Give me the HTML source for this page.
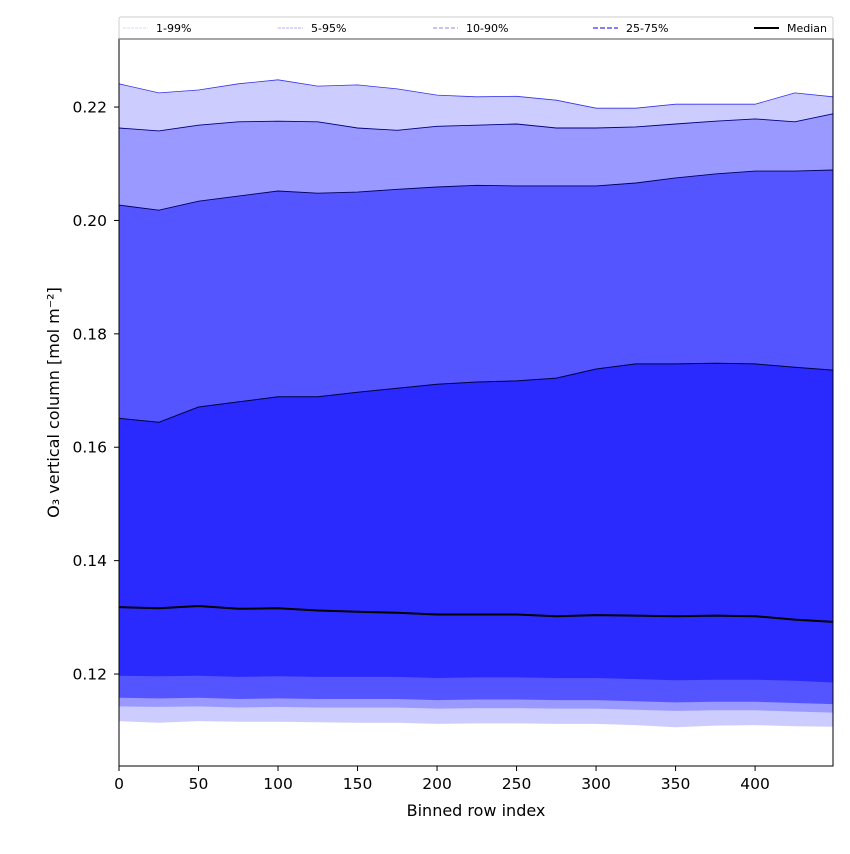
<!DOCTYPE html>
<html><head><meta charset="utf-8"><style>
body{margin:0;background:#fff;font-family:"DejaVu Sans","Liberation Sans",sans-serif;}
</style></head><body>
<svg id="chart" width="850" height="850" xmlns="http://www.w3.org/2000/svg" font-family="DejaVu Sans, Liberation Sans, sans-serif"></svg>
<script>
const rows=[0,25,50,75,100,125,150,175,200,225,250,275,300,325,350,375,400,425,449];
const p99=[0.2241,0.2225,0.2230,0.2241,0.2248,0.2237,0.2239,0.2232,0.2221,0.2218,0.2219,0.2212,0.2198,0.2198,0.2205,0.2205,0.2205,0.2225,0.2218];
const p95=[0.2163,0.2158,0.2168,0.2174,0.2175,0.2174,0.2163,0.2159,0.2166,0.2168,0.2170,0.2163,0.2163,0.2165,0.2170,0.2175,0.2179,0.2174,0.2188];
const p90=[0.2027,0.2018,0.2034,0.2043,0.2052,0.2048,0.2050,0.2055,0.2059,0.2062,0.2061,0.2061,0.2061,0.2066,0.2075,0.2082,0.2087,0.2087,0.2089];
const p75=[0.1651,0.1644,0.1671,0.1680,0.1689,0.1689,0.1697,0.1704,0.1711,0.1715,0.1717,0.1722,0.1738,0.1747,0.1747,0.1748,0.1747,0.1741,0.1736];
const p50=[0.1318,0.1316,0.1320,0.1315,0.1316,0.1312,0.1310,0.1308,0.1305,0.1305,0.1305,0.1302,0.1304,0.1303,0.1302,0.1303,0.1302,0.1296,0.1292];
const p25=[0.1197,0.1196,0.1197,0.1195,0.1196,0.1195,0.1195,0.1195,0.1193,0.1194,0.1194,0.1193,0.1193,0.1191,0.1189,0.1190,0.1190,0.1188,0.1185];
const p10=[0.1158,0.1157,0.1158,0.1156,0.1157,0.1156,0.1156,0.1156,0.1154,0.1155,0.1155,0.1154,0.1154,0.1152,0.1150,0.1151,0.1151,0.1149,0.1147];
const p5=[0.1143,0.1142,0.1143,0.1141,0.1142,0.1141,0.1141,0.1141,0.1139,0.1140,0.1140,0.1139,0.1139,0.1137,0.1135,0.1136,0.1136,0.1134,0.1132];
const p1=[0.1117,0.1114,0.1117,0.1116,0.1116,0.1115,0.1114,0.1114,0.1112,0.1113,0.1113,0.1112,0.1112,0.1110,0.1106,0.1109,0.1110,0.1108,0.1107];
const xTicks=[0,50,100,150,200,250,300,350,400];
const yTicks=[0.12,0.14,0.16,0.18,0.20,0.22];
const L=119,R=833,T=39,B=766,XMAX=449,YMIN=0.10378,YMAX=0.23200;
const sx=v=>L+(v-0)/(XMAX-0)*(R-L);
const sy=v=>B-(v-YMIN)/(YMAX-YMIN)*(B-T);
const svg=document.getElementById('chart');
const NS='http://www.w3.org/2000/svg';
function mk(tag,attrs,parent){const e=document.createElementNS(NS,tag);for(const k in attrs)e.setAttribute(k,attrs[k]);(parent||svg).appendChild(e);return e;}
function pts(a){return rows.map((r,i)=>sx(r).toFixed(1)+','+sy(a[i]).toFixed(1));}
function band(lo,hi,color,name){
  const d='M'+pts(hi).join('L')+'L'+pts(lo).reverse().join('L')+'Z';
  const p=mk('path',{d:d,fill:color,stroke:'none'});
  
  
}
function line(a,color,w,name){
  const p=mk('path',{d:'M'+pts(a).join('L'),fill:'none',stroke:color,'stroke-width':w});
  
  
}
band(p1,p99,'#ccccff','band-1-99');
band(p5,p95,'#9999ff','band-5-95');
band(p10,p90,'#5555ff','band-10-90');
band(p25,p75,'#2a2aff','band-25-75');
line(p99,'#3333ee',0.8,'line-p99');
line(p95,'#000080',0.9,'line-p95');
line(p90,'#000060',0.9,'line-p90');
line(p75,'#000040',1,'line-p75');
line(p50,'#000000',2,'median-line');
const fr=mk('rect',{x:L,y:T,width:R-L,height:B-T,fill:'none',stroke:'#000','stroke-width':1});


xTicks.forEach(t=>{
  const x=sx(t);
  mk('line',{x1:x,x2:x,y1:B,y2:B+5,stroke:'#000'});
  const tx=mk('text',{x:x,y:B+23,'text-anchor':'middle','font-size':15.5});tx.textContent=t;
  
  
});
yTicks.forEach(t=>{
  const y=sy(t);
  mk('line',{x1:L-5,x2:L,y1:y,y2:y,stroke:'#000'});
  const tx=mk('text',{x:L-12,y:y+5.5,'text-anchor':'end','font-size':15.5});tx.textContent=t.toFixed(2);
  
  
});
const xl=mk('text',{x:(L+R)/2,y:816,'text-anchor':'middle','font-size':16});xl.textContent='Binned row index';


const yl=mk('text',{x:0,y:0,'text-anchor':'middle','font-size':16,transform:'translate(59,'+((T+B)/2)+') rotate(-90)'});yl.textContent='O₃ vertical column [mol m⁻²]';


const lg=mk('g',{});


mk('rect',{x:119,y:17,width:714,height:22,fill:'#fff',stroke:'#ccc','stroke-width':1,rx:2},lg);
mk('line',{x1:119,x2:833,y1:39,y2:39,stroke:'#888','stroke-width':1.5},lg);
const entries=[['1-99%',123,'#ccccff',0.8,'3,1'],['5-95%',278,'#9999ff',0.8,'3,1'],['10-90%',433,'#8888ee',1,'4,2'],['25-75%',593,'#5555ff',1.5,'5,2'],['Median',754,'#000',2,'']];
entries.forEach(e=>{
  const g=mk('g',{},lg);
  
  
  const a={x1:e[1],x2:e[1]+25,y1:28,y2:28,stroke:e[2],'stroke-width':e[3]};
  if(e[4])a['stroke-dasharray']=e[4];
  mk('line',a,g);
  const t=mk('text',{x:e[1]+33,y:32,'font-size':11},g);t.textContent=e[0];
});
</script>
</body></html>
